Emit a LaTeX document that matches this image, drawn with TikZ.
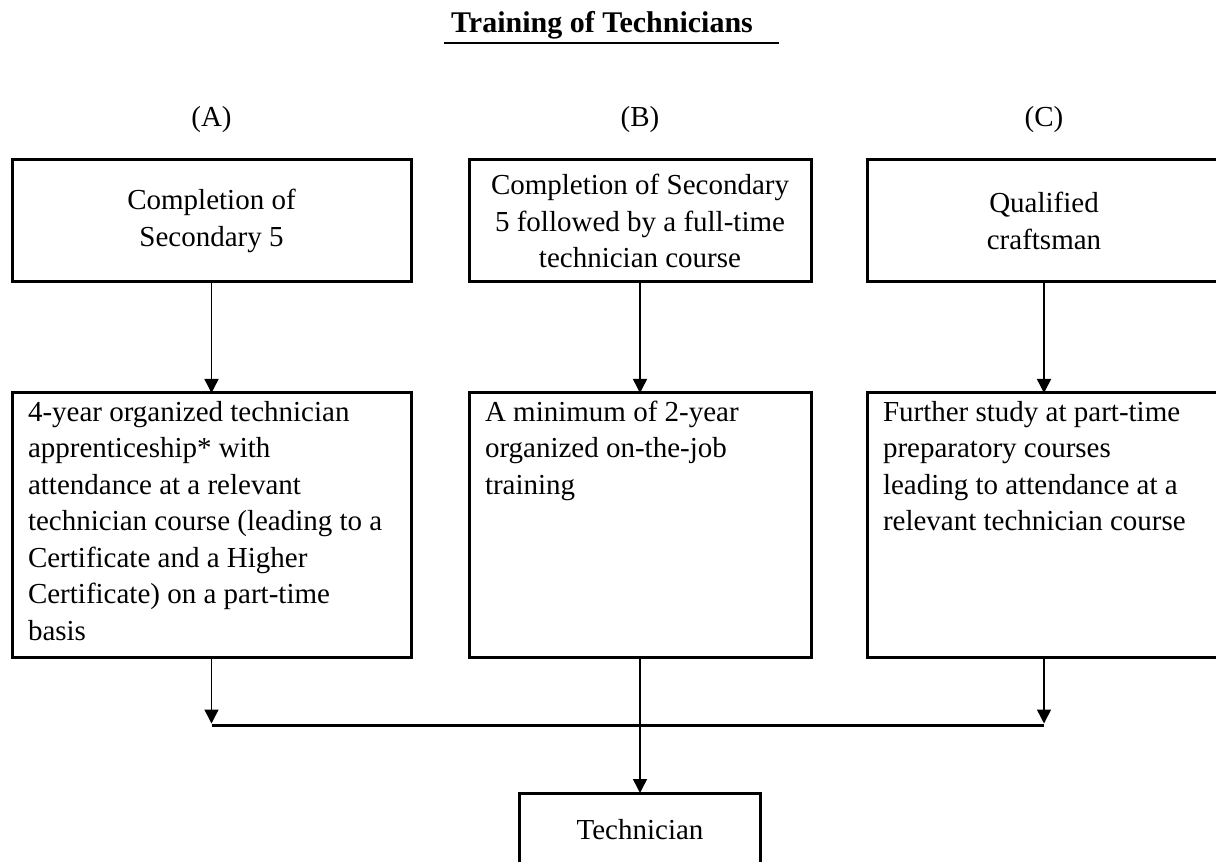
\documentclass[tikz,border=0pt]{standalone}
\usepackage{fontspec}
\setmainfont{Liberation Serif}
\usetikzlibrary{arrows.meta}
\newcommand\bodyfont{\fontsize{21.75pt}{27.4pt}\selectfont}
\newcommand\headfont{\fontsize{22.5pt}{27pt}\selectfont\bfseries}
% top-aligned, fixed-height text block for the lower row of boxes
\newcommand\boxtext[2]{\parbox[t][194pt][t]{#1}{\raggedright\strut #2}}
\begin{document}
\begin{tikzpicture}[x=0.75pt,y=-0.75pt,
  box/.style={draw, line width=2.25pt, rectangle, inner sep=0pt, outer sep=0pt, font=\bodyfont},
  topbox/.style={box, minimum height=91.5pt, align=center},
  textbox/.style={box, anchor=north west, inner xsep=12pt, inner ysep=2pt},
  flow/.style={line width=1.1pt, -{Triangle[width=10.5pt,length=10.5pt]}},
  bus/.style={line width=2.25pt},
  colhead/.style={anchor=base, font=\bodyfont, inner sep=0pt}]
\fill[white] (0,0) rectangle (1216,862);
\useasboundingbox (0,0) rectangle (1216,862);
\clip (0,0) rectangle (1216,862);

% title with its underline
\node[anchor=base, font=\headfont, inner sep=0pt] (title) at (602,33) {Training of Technicians};
\draw[line width=2pt] (444,43) -- (779,43);

% column headings
\node[colhead] (hA) at (211.5,127) {(A)};
\node[colhead] (hB) at (640,127) {(B)};
\node[colhead] (hC) at (1044,127) {(C)};

% entry requirements
\node[topbox, minimum width=299.25pt] (a1) at (211.5,221) {Completion of\\Secondary 5};
\node[topbox, minimum width=256.5pt] (b1) at (640,221) {Completion of Secondary\\5 followed by a full-time\\technician course};
\node[topbox, minimum width=265.5pt] (c1) at (1044,221) {Qualified\\craftsman};

% training routes
\node[textbox] (a2) at (12,393) {\boxtext{275.25pt}{4-year organized technician\\apprenticeship* with\\attendance at a relevant\\technician course (leading to a\\Certificate and a Higher\\Certificate) on a part-time\\basis}};
\node[textbox] (b2) at (469,393) {\boxtext{232.5pt}{A minimum of 2-year\\organized on-the-job\\training}};
\node[textbox] (c2) at (867,393) {\boxtext{241.5pt}{Further study at part-time\\preparatory courses\\leading to attendance at a\\relevant technician course}};

% outcome
\node[box, minimum width=180.75pt, minimum height=55.5pt] (tech) at (640,830) {Technician};

% connectors
\draw[flow] (a1.south) -- (a2.north);
\draw[flow] (b1.south) -- (b2.north);
\draw[flow] (c1.south) -- (c2.north);

\coordinate (bus) at (0,725);
\coordinate (bustop) at (0,723.5);
\draw[bus] (a2.south |- bus) -- (c2.south |- bus);
\draw[flow] (a2.south) -- (a2.south |- bustop);
\draw[flow] (c2.south) -- (c2.south |- bustop);
\draw[flow] (b2.south) -- (tech.north);
\end{tikzpicture}
\end{document}
